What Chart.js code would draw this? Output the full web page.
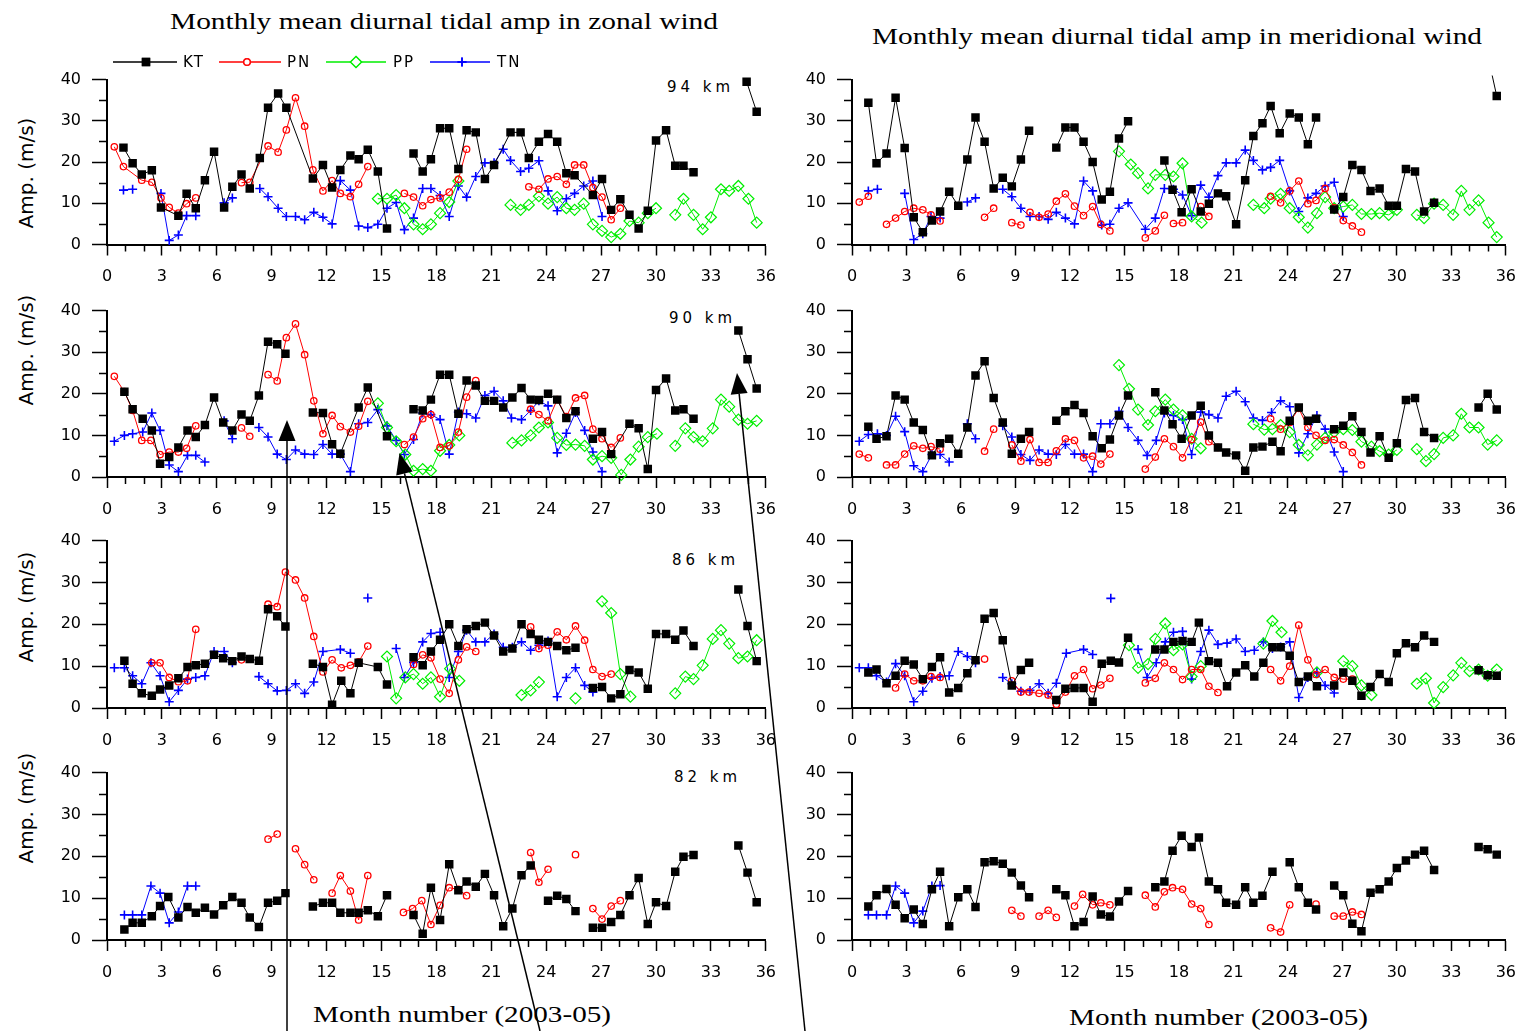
<!DOCTYPE html>
<html>
<head>
<meta charset="utf-8">
<script src="https://cdn.jsdelivr.net/npm/chart.js@4.4.1/dist/chart.umd.min.js"></script>
<style>
body{margin:0;width:1528px;height:1031px;background:#fff;position:relative;overflow:hidden;font-family:"DejaVu Sans",sans-serif}
canvas.c{position:absolute}
.ttl{position:absolute;font-family:"Liberation Serif","Times New Roman",serif;font-size:23px;line-height:30px;white-space:nowrap;color:#000;transform-origin:0 50%}
.km{position:absolute;font-size:15px;line-height:18px;letter-spacing:4px;color:#000;white-space:nowrap}
.yt{position:absolute;font-size:20px;line-height:22px;white-space:nowrap;transform:translate(-50%,-50%) rotate(-90deg)}
#ov{position:absolute;left:0;top:0;z-index:5;pointer-events:none}
</style>
</head>
<body>
<div class="ttl" data-w="548" style="left:170px;top:7px">Monthly mean diurnal tidal amp in zonal wind</div>
<div class="ttl" data-w="610" style="left:872px;top:22px">Monthly mean diurnal tidal amp in meridional wind</div>
<div class="ttl" data-w="298" style="left:313px;top:1000px">Month number (2003-05)</div>
<div class="ttl" data-w="299" style="left:1069px;top:1003px">Month number (2003-05)</div>
<div class="km" style="left:667px;top:78px">94 km</div>
<div class="km" style="left:669px;top:309px">90 km</div>
<div class="km" style="left:672px;top:551px">86 km</div>
<div class="km" style="left:674px;top:768px">82 km</div>
<div class="yt" style="left:26px;top:173px">Amp. (m/s)</div>
<div class="yt" style="left:26px;top:350px">Amp. (m/s)</div>
<div class="yt" style="left:26px;top:607px">Amp. (m/s)</div>
<div class="yt" style="left:26px;top:808px">Amp. (m/s)</div>
<canvas id="ov" width="1528" height="1031"></canvas>
<script>
// axis ranges
const MONTH_MIN = 0, MONTH_MAX = 36, MONTH_STEP = 3;
const AMP_MIN = 0, AMP_MAX = 40, AMP_STEP = 10;

// ---- 94 km ----
const KT_Z94 = [[0.9,23.5],[1.4,19.7],[1.9,17],[2.45,18],[2.95,9],[3.9,7],[4.35,12.3],[4.85,8.8],[5.35,15.6],[5.85,22.5],[6.4,9],[6.85,14],[7.35,17],[7.8,13.6],[8.35,21],[8.8,33.2],[9.35,36.6],[9.8,33.2],[11.25,16],[11.8,19.3],[12.3,13.8],[12.75,18.1],[13.3,21.6],[13.75,20.7],[14.25,23],[14.8,17.7],[15.3,3.9],null,[16.75,22.1],[17.25,17.7],[17.7,20.7],[18.2,28.2],[18.7,28.2],[19.2,18.3],[19.65,27.7],[20.15,27.2],[20.65,15.9],[21.15,19.3],[22.05,27.2],[22.6,27.2],[23.05,21],[23.6,24.9],[24.1,26.8],[24.6,24.9],[25.1,17.3],[25.55,16.8],[26.55,12],[27.05,15.9],[27.55,8.4],[28.05,11],[28.55,7.2],[29.05,3.9],[29.55,8.2],[30.0,25.2],[30.55,27.7],[31.05,19.1],[31.5,19.1],[32.05,17.5],null,[34.95,39.5],[35.5,32.2]];
const PN_Z94 = [[0.4,23.7],[0.9,18.9],[1.9,15.6],[2.45,15.1],[2.95,11.3],[3.4,9],[3.9,7.6],[4.35,9.9],[4.85,11.3],null,[7.35,15],[7.8,15.1],[8.8,23.9],[9.35,22.4],[9.8,27.8],[10.3,35.6],[10.8,28.7],[11.25,18.1],[11.8,13],[12.3,15.5],[12.75,12.4],[13.3,11.6],[13.75,14.6],[14.25,18.9],null,[16.25,12.4],[16.75,11.5],[17.25,9.4],[17.7,10.9],[18.2,11.3],[18.7,12.7],[19.2,15.8],[19.65,23.1],null,[23.05,14],[23.6,13.4],[24.1,15.9],[24.6,16.5],[25.1,14.6],[25.55,19.3],[26.05,19.3],[26.55,13.8],[27.05,11.5],[27.55,6],[28.05,8.8]];
const PP_Z94 = [[14.8,11.1],[15.3,11.1],[15.8,12],[16.25,8.8],[16.75,4.9],[17.25,3.7],[17.7,4.9],[18.2,7.6],[18.7,10.3],[19.2,15.4],null,[22.05,9.6],[22.6,8.4],[23.05,9.6],[23.6,11.7],[24.1,9.9],[24.6,11.5],[25.1,8.8],[25.55,8.4],[26.05,9.9],[26.55,4.9],[27.05,3.3],[27.55,1.8],[28.05,2.6],[28.55,5.7],[29.05,5.3],[29.55,7.6],[30.0,8.8],null,[31.05,7.2],[31.5,11.1],[32.05,7.2],[32.55,3.7],[33.0,6.6],[33.55,13.4],[34.0,13],[34.5,14.2],[35.05,11.1],[35.5,5.3]];
const TN_Z94 = [[0.9,13.2],[1.4,13.4],null,[2.95,12.4],[3.4,1],[3.9,2.3],[4.35,7],[4.85,7],null,[6.4,10.1],[6.85,11.3],null,[8.35,13.6],[8.8,11.6],[9.35,8.8],[9.8,6.8],[10.3,6.8],[10.8,6],[11.3,7.8],[11.8,6.6],[12.3,5],[12.75,15.5],[13.3,13.2],[13.75,4.5],[14.25,4.1],[14.8,4.9],[15.3,8.8],[15.8,10.2],[16.25,3.6],[16.75,6.4],[17.25,13.6],[17.7,13.6],[18.2,11.9],[18.7,6.8],[19.2,14.2],[19.65,11.5],[20.15,16.5],[20.65,19.8],[21.15,19.8],[21.65,23.1],[22.05,20.4],[22.6,17.7],[23.05,18.5],[23.6,20.3],[24.1,13],[24.6,8.2],[25.1,11.1],[25.55,12.4],[26.05,14.2],[26.55,15.4],[27.05,6.8]];

const KT_M94 = [[0.9,34.4],[1.35,19.7],[1.9,22.1],[2.4,35.6],[2.9,23.4],[3.4,6.6],[3.9,3],[4.4,5.8],[4.85,8],[5.35,12.8],[5.85,9.4],[6.35,20.6],[6.8,30.8],[7.3,24.9],[7.8,13.6],[8.3,16.2],[8.8,14.1],[9.3,20.6],[9.75,27.6],null,[11.25,23.5],[11.75,28.4],[12.25,28.4],[12.75,24.9],[13.25,20],[13.75,10.9],[14.2,12.8],[14.7,25.7],[15.2,29.9],null,[17.2,20.4],[17.65,13.3],[18.15,7.8],[18.7,13.4],[19.2,8],[19.65,9.9],[20.15,12.4],[20.6,11.7],[21.15,4.9],[21.65,15.6],[22.1,26.3],[22.6,29.4],[23.05,33.6],[23.55,27],[24.1,31.8],[24.6,30.8],[25.1,24.3],[25.55,30.8],null,[26.55,8.5],[27.05,11.5],[27.55,19.3],[28.05,18.1],[28.55,13],[29.05,13.6],[29.55,9.4],[30.0,9.4],[30.5,18.3],[31.0,17.7],[31.5,8],[32.05,10.1],null,[35.1,44],[35.5,36]];
const PN_M94 = [[0.4,10.3],[0.9,11.7],null,[1.9,4.9],[2.4,6.4],[2.9,8],[3.4,8.8],[3.9,8.4],[4.35,7.2],[4.85,5.7],null,[7.3,6.6],[7.8,8.8],null,[8.8,5.3],[9.3,4.7],null,[9.8,7.8],[10.3,6.6],[10.8,7.4],[11.25,10.5],[11.75,12.3],[12.25,9.3],[12.75,7],[13.25,9.2],[13.7,4.9],[14.2,3.3],null,[16.15,1.6],[16.7,3.3],[17.2,7.1],null,[17.7,5.1],[18.2,5.3],null,[19.2,9.2],[19.65,6.8],null,[23.05,11.7],[23.6,10.1],[24.1,13],[24.6,15.4],[25.1,9.9],[25.55,10.7],[26.05,13.6],[26.55,8.9],[27.05,5.8],[27.55,4.5],[28.05,3]];
const PP_M94 = [[14.7,22.6],[15.35,19.4],[15.75,17.3],[16.3,13.6],[16.7,16.9],[17.25,16.9],[17.7,16.5],[18.2,19.7],[18.7,6.8],[19.25,5.3],null,[22.1,9.6],[22.7,8.8],[23.05,11.1],[23.6,12.3],[24.1,8.8],[24.6,6.6],[25.1,4.1],[25.6,7.6],[26.05,11.5],[26.55,8.8],[27.05,9.2],[27.55,9.6],[28.05,7.4],[28.6,7.4],[29.05,7.6],[29.55,7.2],[30.0,8.4],null,[31.1,7.2],[31.5,6.4],[32.05,9.9],[32.55,9.6],[33.1,7.2],[33.55,13],[34.0,8.4],[34.5,10.7],[35.05,5.3],[35.5,1.8]];
const TN_M94 = [[0.9,13],[1.4,13.4],null,[2.9,12.4],[3.4,1.2],[3.9,2.6],[4.35,6.8],[4.85,6.4],null,[6.35,10.3],[6.8,11.3],null,[8.3,13.4],[8.8,11.6],[9.3,8.8],[9.8,6.8],[10.3,6.8],[10.8,6.1],[11.25,7.8],[11.75,6.4],[12.25,5],[12.75,15.4],[13.25,13],[13.75,4.7],[14.2,4.9],[14.7,8.8],[15.2,10.1],[16.15,3.7],[16.7,6.4],[17.2,13.6],[17.7,13.4],[18.2,12],[18.7,7],[19.2,14.4],[19.65,11.5],[20.15,16.7],[20.6,19.8],[21.15,19.8],[21.65,22.9],[22.1,20.4],[22.6,18.1],[23.05,18.7],[23.55,20.4],[24.1,13],[24.6,8],[25.1,11.3],[25.55,12.4],[26.05,14.2],[26.55,15.1],[27.05,6.8]];

// ---- 90 km ----
const KT_Z90 = [[0.95,20.5],[1.4,16.3],[1.95,14],[2.45,11.2],[2.9,3.2],[3.4,4.8],[3.9,7.1],[4.4,11.2],[4.85,9.6],[5.35,12.5],[5.85,19.1],[6.35,13.1],[6.85,11.2],[7.35,15],[7.8,13.5],[8.3,19.6],[8.8,32.5],[9.3,31.9],[9.75,29.6],null,[11.25,15.5],[11.8,15.4],[12.3,7.9],[12.75,5.6],[13.75,16.7],[14.25,21.5],[15.3,9.8],null,[16.75,16.3],[17.25,16],[17.7,18.6],[18.2,24.6],[18.7,24.6],[19.2,15.2],[19.65,23.2],[20.15,22],[20.65,18.3],[21.15,18.3],[21.65,16.7],[22.15,19.1],[22.65,21.4],[23.15,18.6],[23.6,18.5],[24.1,20],[24.6,18.6],[25.1,14.2],[25.6,15.8],null,[26.55,9.2],[27.05,10.8],[27.55,5.5],[28.55,12.8],[29.05,11.7],[29.55,1.9],[30.0,20.9],[30.55,23.7],[31.05,16],[31.5,16.3],[32.05,14],null,[34.5,35.2],[35.0,28.3],[35.5,21.3]];
const PN_Z90 = [[0.4,24.2],[0.95,20.5],[1.4,16],[1.9,8.8],[2.4,8.8],[2.9,5.4],[3.4,6],[3.9,6],[4.35,6.9],[4.85,12.3],null,[7.35,11.8],[7.8,9.8],null,[8.8,24.6],[9.3,23.1],[9.8,33.5],[10.3,36.8],[10.8,29.4],[11.3,18.3],[11.8,10.4],[12.3,14.8],[12.75,12.1],[13.3,10.8],[13.75,12.2],[14.25,18.2],null,[16.25,7.8],[16.75,9.6],[17.25,14],[17.7,15],[18.2,7.1],[18.7,7.5],[19.2,10.8],[19.65,19.2],[20.15,23.2],null,[23.15,16.3],[23.6,15],[24.1,13.5],[24.6,18.6],[25.1,14.5],[25.6,19],[26.1,19.6],[26.55,11.5],[27.05,9.2],[27.55,7.1],[28.05,9.4]];
const PP_Z90 = [[14.8,17.7],[15.3,11.9],[15.8,8.6],[16.3,5.4],[16.75,1.5],[17.25,1.9],[17.7,1.5],[18.2,6.3],[18.7,7.7],[19.25,10],null,[22.15,8.2],[22.65,8.8],[23.15,10],[23.6,11.9],[24.1,13.1],[24.6,9.4],[25.1,7.7],[25.6,7.8],[26.1,7.5],[26.55,4.2],[27.05,5],[27.55,4.6],[28.1,0.5],[28.6,4.2],[29.05,7.3],[29.55,9.6],[30.05,10.4],null,[31.05,7.5],[31.6,11.7],[32.05,9.6],[32.55,8.6],[33.1,11.7],[33.55,18.6],[34.0,16.9],[34.5,13.8],[35.0,12.8],[35.5,13.5]];
const TN_Z90 = [[0.4,8.6],[0.95,10],[1.4,10.4],[1.95,10.8],[2.45,15.4],[2.9,11.2],[3.4,2.9],[3.9,1.3],[4.4,5.2],[4.85,5.2],[5.35,3.6],null,[6.4,13.5],[6.85,9.2],null,[8.3,11.9],[8.8,9.6],[9.3,5.5],[9.8,4.2],[10.3,6.5],[10.8,5.5],[11.3,5.4],[11.8,7.8],[12.3,5.5],[12.75,5.5],[13.3,1.3],[13.75,12.8],[14.25,13.1],[14.8,16.2],[15.3,12.3],[15.8,8.8],[16.25,5.4],[16.75,9],[17.25,15.4],[17.7,15],[18.2,13.8],[18.7,5.5],[19.2,15.6],[19.65,15.2],[20.15,14.2],[20.65,19.6],[21.15,20.6],[21.65,18.3],[22.1,14.2],[22.65,13.8],[23.15,16],[23.6,18.3],[24.1,17.1],[24.6,5.8],[25.1,10.5],[25.6,15.5],[26.1,11.2],[26.55,6],[27.05,1.3]];

const KT_M90 = [[0.9,12.1],[1.35,9.2],[1.9,9.8],[2.4,19.6],[2.9,18.6],[3.4,13.1],[3.9,11.3],[4.4,5.2],[4.85,8.1],[5.35,9.2],[5.85,5.6],[6.35,11.9],[6.8,24.4],[7.3,27.8],[7.8,19],[8.3,13.1],[8.8,5.6],[9.3,9.2],[9.75,10.8],null,[11.25,13.5],[11.75,15.8],[12.25,17.3],[12.75,15.4],[13.25,9.8],[13.75,6.9],[14.2,9],[14.7,14.8],[15.2,19.6],null,[16.7,20.4],[17.2,16],[17.65,12.7],[18.15,9.2],[18.7,14.8],[19.2,17.1],[19.65,10],[20.15,7.1],[20.6,5.9],[21.15,5.2],[21.65,1.5],[22.1,7.1],[22.6,7.3],[23.15,8.5],[23.6,6.2],[24.1,13.5],[24.6,16.7],[25.1,13.5],[25.55,14],null,[26.55,11.5],[27.05,12.3],[27.55,14.6],[28.05,10.8],[28.55,5.9],[29.05,9.8],[29.55,4.6],[30.0,8.1],[30.5,18.5],[31.0,19],[31.5,10.8],[32.05,9.4],null,[34.5,16.7],[35.0,20],[35.5,16.2]];
const PN_M90 = [[0.4,5.5],[0.9,4.6],null,[1.9,2.9],[2.4,2.9],[2.9,5.5],[3.4,7.5],[3.9,6.9],[4.35,7.3],[4.85,6.7],null,[7.3,6.2],[7.8,11.5],null,[8.8,7.7],[9.3,3.8],[9.8,9],[10.3,3.5],[10.8,3.5],[11.25,6.3],[11.75,9.2],[12.25,8.8],[12.75,4.6],[13.25,5],[13.7,3.1],[14.2,5.5],null,[16.15,1.9],[16.7,4.8],[17.2,9.2],[17.7,7.3],[18.2,4.6],[18.7,9],[19.2,13.2],[19.65,8.5],[20.15,7.1],null,[23.05,14],[23.6,11.5],[24.1,13.1],[24.6,16.5],[25.1,11.9],[25.55,10],[26.05,8.8],[26.55,9],[27.05,7.7],[27.55,5.9],[28.05,2.9]];
const PP_M90 = [[14.7,26.9],[15.25,21.2],[15.75,16.2],[16.3,12.5],[16.7,15.8],[17.25,18.6],[17.7,16.2],[18.2,14.8],[18.7,9.2],[19.2,6.9],null,[22.1,12.7],[22.7,11.4],[23.15,11.5],[23.6,12.5],[24.1,10.8],[24.6,7.7],[25.1,5.2],[25.6,7.8],[26.05,9.4],[26.55,10.8],[27.05,11.5],[27.55,11.3],[28.05,8.5],[28.6,7.3],[29.05,6.2],[29.55,5.4],[30.0,6.5],null,[31.1,6.7],[31.6,3.8],[32.05,5.5],[32.55,9.4],[33.1,10],[33.55,15.2],[34.0,11.9],[34.5,11.9],[35.0,7.8],[35.5,8.8]];
const TN_M90 = [[0.4,8.6],[0.9,10.2],[1.4,10.4],[1.9,10],[2.4,14.6],[2.9,10.9],[3.4,2.7],[3.9,1.3],[4.4,5.4],[4.85,5.4],[5.35,3.6],null,[6.35,12.8],[6.8,9.2],null,[8.3,12.3],[8.8,9.6],[9.3,5.4],[9.8,4],[10.3,6.5],[10.8,5.5],[11.25,5.4],[11.75,7.8],[12.25,5.5],[12.75,5.5],[13.25,1.3],[13.7,12.8],[14.2,12.8],[14.7,15.8],[15.2,11.9],[15.75,8.8],[16.25,5.2],[16.75,8.8],[17.2,15.4],[17.7,14.8],[18.2,13.8],[18.7,5.4],[19.2,15.6],[19.65,15],[20.15,14.2],[20.6,19.4],[21.15,20.6],[21.65,18.1],[22.1,14.2],[22.6,13.6],[23.1,15.5],[23.6,18.3],[24.1,16.9],[24.6,5.8],[25.1,10.4],[25.6,14.8],[26.05,11.5],[26.55,6],[27.05,1.3]];

// ---- 86 km ----
const KT_Z86 = [[0.95,11.3],[1.4,5.8],[1.9,3.5],[2.45,2.9],[2.9,4.4],[3.4,5.4],[3.9,7.1],[4.4,9.8],[4.85,10.2],[5.35,10.6],[5.85,12.7],[6.35,11.9],[6.85,11.2],[7.35,12.3],[7.8,11.7],[8.3,11.3],[8.8,23.6],[9.3,21.9],[9.75,19.5],null,[11.25,10.6],[11.8,9.8],[12.3,0.8],[12.8,6.5],[13.3,3.5],[13.75,10.8],[14.8,9.8],[15.3,5.6],null,[16.75,12.1],[17.25,10.2],[17.7,13.5],[18.2,16.3],[18.7,20],[19.2,14.8],[19.65,18.8],[20.15,19.6],[20.65,20.4],[21.15,17.3],[21.65,13.5],[22.15,14.2],[22.65,20],[23.15,17.7],[23.6,16.3],[24.1,15.8],[24.6,14.8],[25.1,13.8],[25.6,14.4],null,[26.55,4.8],[27.05,5],[27.55,2.3],[28.05,3.3],[28.55,9.1],[29.05,8.5],[29.55,4.6],[30.0,17.7],[30.55,17.7],[31.05,16.3],[31.5,18.5],[32.05,14.8],null,[34.5,28.3],[35.0,19.6],[35.5,11.2]];
const PN_Z86 = [[2.45,10.8],[2.9,10.8],[3.4,7.3],[3.9,6.3],[4.4,6.5],[4.85,18.8],null,[7.35,11.5],null,[8.8,24.8],[9.3,24.2],[9.75,32.5],[10.3,30.6],[10.8,26.3],[11.3,17.1],[11.8,8.6],[12.3,11.5],[12.8,9.6],[13.3,10.2],[13.75,11],[14.25,14.8],null,[16.75,10.4],[17.25,12.7],[17.7,12],[18.2,6.9],[18.7,3.5],[19.2,11.5],[19.65,14.6],[20.15,13.5],null,[23.15,19.4],[23.6,14.2],[24.1,15],[24.6,18.2],[25.1,16.3],[25.6,19.6],[26.1,16.2],[26.55,9.2],[27.05,7.5],[27.55,8.1]];
const PP_Z86 = [[15.3,12.3],[15.8,2.3],[16.3,7.3],[16.75,8.1],[17.25,5.8],[17.7,7.3],[18.2,2.7],[18.75,9.4],[19.25,6.5],null,[22.65,3.1],[23.15,4.2],[23.6,6.2],null,[25.6,2.3],null,[27.05,25.5],[27.55,22.7],[28.05,8.1],[28.6,2.7],null,[31.05,3.5],[31.6,7.5],[32.05,6.9],[32.55,10.2],[33.1,16.5],[33.55,18.6],[34.0,15.4],[34.5,11.9],[35.0,12.3],[35.5,16.2]];
const TN_Z86 = [[0.4,9.6],[0.95,9.6],[1.4,7.7],[1.9,5.8],[2.4,10.8],[2.9,7.7],[3.4,1.5],[3.9,4.2],[4.4,6.9],[4.85,7.3],[5.35,7.7],[5.85,13.5],[6.4,13.5],[6.85,10.8],null,[8.3,7.5],[8.8,5.8],[9.3,4.1],[9.8,4.2],[10.3,5.8],[10.8,3.5],[11.3,6.2],[11.8,13.5],[12.75,14],[13.3,13.1],null,[14.25,26.3],null,[15.8,14.2],[16.25,7.3],[16.75,10.9],[17.25,15.8],[17.7,17.8],[18.2,18.1],[18.7,7.3],[19.2,13.5],[19.65,18.6],[20.15,15.8],[20.65,15.8],[21.15,17.7],[21.65,14.5],[22.15,14.5],[22.65,15.8],[23.15,13.8],[23.6,15],[24.1,16],[24.6,2.7],[25.1,7.3],[25.6,9.6],[26.1,5.4],[26.55,3.8]];

const KT_M86 = [[0.9,8.5],[1.35,9.2],[1.9,5.9],[2.4,7.7],[2.9,11.3],[3.4,10.4],[3.9,6.9],[4.4,9.8],[4.85,12.1],[5.35,3.7],[5.85,4.8],[6.35,8.3],[6.8,11.4],[7.3,21.3],[7.8,22.7],[8.3,16.2],[8.8,5.4],[9.3,9.1],[9.75,10.8],null,[11.25,1.9],[11.75,4.6],[12.25,4.8],[12.75,4.8],[13.25,1.5],[13.75,10.6],[14.25,11.3],[14.7,10.9],[15.2,16.8],null,[16.7,14],[17.2,14],[17.7,15.8],[18.2,16],[18.7,15.8],[19.1,20.4],[19.65,11.2],[20.15,10.8],[20.65,5.2],[21.15,8.5],[21.65,10.2],[22.15,7.5],[22.65,10.8],[23.15,14.5],[23.6,14.5],[24.1,12.5],[24.6,6.2],[25.1,7.5],[25.6,5.2],null,[26.55,5.4],[27.05,8.5],[27.55,6.5],[28.05,2.9],[28.55,5],[29.05,8.1],[29.55,6.2],[30.0,13.1],[30.5,15.5],[31.0,14.5],[31.5,17.3],[32.05,15.8],null,[34.5,9],[35.0,7.8],[35.5,7.7]];
const PN_M86 = [[2.4,4.8],[2.9,8.1],[3.4,6.5],[3.9,6.5],[4.35,7.5],[4.85,7.3],null,[7.3,11.7],null,[8.8,6.5],[9.3,3.8],[9.75,3.8],[10.3,3.5],[10.8,3.1],[11.25,0.9],[11.75,3.8],[12.25,7.7],[12.75,9.2],[13.25,4.6],[13.7,5.5],[14.2,7.1],null,[16.15,6],[16.7,7.1],[17.2,10.8],[17.7,9.2],[18.2,6.8],[18.7,9.2],[19.2,9.2],[19.65,5.2],[20.15,3.7],null,[23.05,9.2],[23.6,6.5],[24.1,10],[24.6,19.8],[25.1,11.5],[25.55,8],[26.05,9.2],[26.55,7.3],[27.05,6.9],[27.55,6.9]];
const PP_M86 = [[15.25,15],[15.75,9.6],[16.3,10.5],[16.7,16.5],[17.25,20.2],[17.7,13.8],[18.2,15.2],[18.7,7.5],[19.2,10],null,[22.65,15.4],[23.15,20.8],[23.65,18.1],null,[25.6,8.5],null,[27.05,11.2],[27.55,10],[28.05,5.4],[28.6,3.1],null,[31.1,5.8],[31.6,7.1],[32.05,1.2],[32.55,5],[33.1,7.8],[33.55,10.8],[34.0,8.8],[34.5,9.2],[35.0,7.7],[35.5,9.2]];
const TN_M86 = [[0.4,9.6],[0.9,9.6],[1.35,7.7],[1.9,6.2],[2.4,10.6],[2.9,7.7],[3.4,1.5],[3.9,4],[4.4,7.1],[4.85,7.5],[5.35,7.7],[5.85,13.5],[6.35,12.3],[6.8,10.8],null,[8.3,7.3],[8.8,5.8],[9.3,4],[9.8,4.2],[10.3,5.8],[10.8,3.5],[11.25,5.9],[11.8,13.1],[12.75,14],[13.25,12.8],null,[14.25,26.2],null,[15.75,14],[16.25,7.3],[16.75,10.8],[17.25,15.8],[17.7,18.1],[18.2,18.3],[18.7,6.9],[19.2,13.5],[19.65,18.6],[20.15,15.2],[20.65,15.5],[21.15,16.5],[21.65,13.5],[22.15,13.8],[22.65,15.8],[23.15,14.2],[23.6,14.6],[24.1,15.8],[24.6,2.5],[25.1,7.3],[25.6,8.5],[26.05,5.4],[26.55,3.6]];

// ---- 82 km ----
const KT_Z82 = [[0.95,2.5],[1.4,4.1],[1.9,4.1],[2.45,5.7],[2.9,8.1],[3.35,10.3],[3.9,5.4],[4.4,7.9],[4.85,6.5],[5.35,7.7],[5.85,6.1],[6.35,8.3],[6.85,10.3],[7.35,8.9],[7.8,5.4],[8.3,3.1],[8.8,8.9],[9.3,9.4],[9.75,11.2],null,[11.25,8],[11.8,8.9],[12.3,8.9],[12.75,6.5],[13.3,6.5],[13.75,6.5],[14.25,7.1],[14.8,5.7],[15.3,10.7],null,[16.75,6],[17.25,1.5],[17.7,12.5],[18.2,4.8],[18.7,18.1],[19.2,11.9],[19.65,14],[20.15,12.7],[20.65,15.8],[21.15,10.7],[21.65,3.3],[22.15,7.5],[22.65,15.5],[23.15,17.8],null,[24.1,9.4],[24.6,10.6],[25.1,9.8],[25.6,6.9],null,[26.55,2.9],[27.05,2.9],[27.55,4.3],[28.05,6],[28.55,10.7],[29.05,14.8],[29.55,3.8],[30.0,9],[30.55,8.1],[31.05,16.3],[31.5,19.9],[32.05,20.3],null,[34.5,22.6],[35.0,16.1],[35.5,9]];
const PN_Z82 = [[8.8,24.1],[9.3,25.3],null,[10.3,21.8],[10.8,18],[11.3,14.4],null,[12.3,11.2],[12.75,15.4],[13.3,11.7],[13.75,4.8],[14.25,15.4],null,[16.2,6.6],[16.7,7.5],[17.2,9.4],[17.7,3.7],[18.2,8.3],[18.7,12.5],[19.2,12.1],[19.65,10.6],null,[23.15,20.9],[23.6,13.8],[24.1,16.9],null,[25.6,20.4],null,[26.55,7.5],[27.05,5],[27.55,8.1],[28.05,9.4]];
const PP_Z82 = [];
const TN_Z82 = [[0.95,6],[1.4,6],[1.9,6],[2.4,12.9],[2.9,11.2],[3.4,4.1],[3.9,6.7],[4.4,12.9],[4.85,12.9]];

const KT_M82 = [[0.9,8],[1.35,10.7],[1.9,12.2],[2.4,8.4],[2.9,5.2],[3.4,7.3],[3.9,3.8],[4.4,12.1],[4.85,16.3],[5.35,3.3],[5.85,10.2],[6.35,12.1],[6.8,7.9],[7.3,18.6],[7.8,18.8],[8.3,18.2],[8.8,16.1],[9.3,13],[9.75,10.2],null,[11.25,12.1],[11.75,10.7],[12.25,3.3],[12.75,4.3],[13.25,10.4],[13.7,6.1],[14.2,5.6],[14.7,9.2],[15.2,11.7],null,[16.7,12.6],[17.2,14],[17.65,21.3],[18.15,24.9],[18.7,22.2],[19.1,24.5],[19.65,14],[20.15,12.1],[20.6,8.9],[21.15,8.4],[21.65,12.6],[22.1,8.9],[22.6,10.6],[23.15,16.3],null,[24.1,18.6],[24.6,12.6],[25.1,8.9],[25.55,7.3],null,[26.55,13],[27.05,10.7],[27.55,3.9],[28.05,2.1],[28.55,11.3],[29.05,12.1],[29.55,14],[30.0,17.2],[30.5,19],[31.0,20.4],[31.5,21.3],[32.05,16.7],null,[34.5,22.2],[35.0,21.7],[35.5,20.4]];
const PN_M82 = [[8.8,7.1],[9.3,5.7],null,[10.3,5.7],[10.8,7.1],[11.25,5.4],null,[12.25,8.1],[12.7,10.9],[13.25,8.4],[13.7,8.9],[14.2,8.4],null,[16.15,10.7],[16.7,7.9],[17.2,11.5],[17.65,12.5],[18.2,12.1],[18.7,8.6],[19.2,7.5],[19.65,3.7],null,[23.05,2.9],[23.6,1.9],[24.1,8.4],null,[25.55,8.6],null,[26.55,5.7],[27.05,5.7],[27.55,6.7],[28.05,6.1]];
const PP_M82 = [];
const TN_M82 = [[0.9,6],[1.35,6],[1.9,6],[2.4,12.9],[2.9,11.2],[3.4,4.1],[3.9,6.9],[4.4,12.9],[4.85,13]];

const SERIES = ['KT', 'PN', 'PP', 'TN'];

// panel grid (page pixels)
const COLS = [{x0: 0, axis: 107, end: 768, w: 788}, {x0: 786, axis: 852, end: 1513, w: 742}];
const ROWS = [{top: 73, bot: 244.5}, {top: 304, bot: 477}, {top: 533.5, bot: 707.5}, {top: 766, bot: 940}];

const PANELS = [
  {col: 0, row: 0, sets: [KT_Z94, PN_Z94, PP_Z94, TN_Z94]},
  {col: 1, row: 0, sets: [KT_M94, PN_M94, PP_M94, TN_M94]},
  {col: 0, row: 1, sets: [KT_Z90, PN_Z90, PP_Z90, TN_Z90]},
  {col: 1, row: 1, sets: [KT_M90, PN_M90, PP_M90, TN_M90]},
  {col: 0, row: 2, sets: [KT_Z86, PN_Z86, PP_Z86, TN_Z86]},
  {col: 1, row: 2, sets: [KT_M86, PN_M86, PP_M86, TN_M86]},
  {col: 0, row: 3, sets: [KT_Z82, PN_Z82, PP_Z82, TN_Z82]},
  {col: 1, row: 3, sets: [KT_M82, PN_M82, PP_M82, TN_M82]}
];

const LOOK = {
  KT: {color: '#000000', style: 'rect', r: 6, bw: 0, fill: '#000000'},
  PN: {color: '#ff0000', style: 'circle', r: 3.2, bw: 1.3, fill: 'rgba(255,255,255,0)'},
  PP: {color: '#00ee00', style: 'rectRot', r: 5.5, bw: 1.2, fill: 'rgba(255,255,255,0)'},
  TN: {color: '#0000ff', style: 'cross', r: 4.5, bw: 1.6, fill: '#0000ff'}
};

function toPoints(pairs) {
  const out = [];
  let lastX = 0;
  pairs.forEach(p => {
    if (p === null) { out.push({x: lastX + 0.01, y: null}); }
    else { out.push({x: p[0], y: p[1]}); lastX = p[0]; }
  });
  return out;
}

// short minor ticks between the labelled ones
const minorTicks = {
  id: 'minorTicks',
  afterDraw(chart) {
    const ctx = chart.ctx, xs = chart.scales.x, ys = chart.scales.y;
    ctx.save();
    ctx.strokeStyle = '#000';
    ctx.lineWidth = 1.5;
    ctx.beginPath();
    for (let m = MONTH_MIN; m <= MONTH_MAX; m++) {
      if (m % MONTH_STEP === 0) continue;
      const px = Math.round(xs.getPixelForValue(m)) + 0.5;
      ctx.moveTo(px, ys.bottom);
      ctx.lineTo(px, ys.bottom + 7);
    }
    for (let v = AMP_MIN + AMP_STEP / 2; v < AMP_MAX; v += AMP_STEP) {
      const py = Math.round(ys.getPixelForValue(v)) + 0.5;
      ctx.moveTo(xs.left, py);
      ctx.lineTo(xs.left - 8, py);
    }
    ctx.stroke();
    ctx.restore();
  }
};

PANELS.forEach(p => {
  const c = COLS[p.col], r = ROWS[p.row];
  const top = r.top - 14;
  const H = Math.round(r.bot + 50 - top);
  const cv = document.createElement('canvas');
  cv.className = 'c';
  cv.width = c.w; cv.height = H;
  cv.style.left = c.x0 + 'px';
  cv.style.top = top + 'px';
  document.body.appendChild(cv);

  const xH = H - 14 - (r.bot - r.top);
  const tickFont = {family: 'DejaVu Sans', size: 16};

  new Chart(cv, {
    type: 'scatter',
    data: {
      datasets: SERIES.map((s, i) => ({
        label: s,
        data: toPoints(p.sets[i]),
        showLine: true,
        spanGaps: false,
        borderColor: LOOK[s].color,
        borderWidth: 1,
        pointStyle: LOOK[s].style,
        pointRadius: LOOK[s].r,
        pointBorderWidth: LOOK[s].bw,
        pointBorderColor: LOOK[s].color,
        pointBackgroundColor: LOOK[s].fill,
        clip: {left: 8, right: 8, top: 4, bottom: 8}
      }))
    },
    options: {
      responsive: false,
      animation: false,
      events: [],
      layout: {padding: {left: 0, top: 14, right: c.w - (c.end - c.x0), bottom: 0}},
      plugins: {legend: {display: false}, tooltip: {enabled: false}},
      scales: {
        x: {
          type: 'linear', min: MONTH_MIN, max: MONTH_MAX,
          ticks: {stepSize: MONTH_STEP, autoSkip: false, maxRotation: 0, color: '#000', font: tickFont, padding: 12},
          grid: {drawOnChartArea: false, drawTicks: true, tickLength: 11, tickColor: '#000', tickWidth: 1.5},
          border: {display: true, color: '#000', width: 2},
          afterFit(s) { s.height = xH; }
        },
        y: {
          type: 'linear', min: AMP_MIN, max: AMP_MAX,
          ticks: {stepSize: AMP_STEP, color: '#000', font: tickFont, padding: 11},
          grid: {drawOnChartArea: false, drawTicks: true, tickLength: 15, tickColor: '#000', tickWidth: 1.5},
          border: {display: true, color: '#000', width: 2},
          afterFit(s) { s.width = c.axis - c.x0; }
        }
      }
    },
    plugins: [minorTicks]
  });
});

// stretch the serif titles to the widths seen in the figure
document.querySelectorAll('.ttl').forEach(el => {
  const w = el.getBoundingClientRect().width;
  el.style.transform = 'scaleX(' + (parseFloat(el.dataset.w) / w) + ')';
});

// legend + annotation arrows
const ov = document.getElementById('ov').getContext('2d');
const LEGEND = [
  {s: 'KT', x1: 113, x2: 177, mx: 146, tx: 183},
  {s: 'PN', x1: 219, x2: 281, mx: 247, tx: 287},
  {s: 'PP', x1: 326, x2: 386, mx: 356, tx: 393},
  {s: 'TN', x1: 430, x2: 490, mx: 462, tx: 497}
];
const LY = 62;
ov.font = '15px "DejaVu Sans"';
ov.textBaseline = 'middle';
ov.letterSpacing = '2px';
LEGEND.forEach(l => {
  const k = LOOK[l.s];
  ov.strokeStyle = k.color;
  ov.lineWidth = 1.5;
  ov.beginPath(); ov.moveTo(l.x1, LY); ov.lineTo(l.x2, LY); ov.stroke();
  Chart.helpers.drawPoint(ov, {pointStyle: k.style, radius: k.r, borderWidth: k.bw || 0, rotation: 0},
    l.mx, LY);
  ov.fillStyle = l.s === 'KT' ? '#000' : '#fff';
  ov.strokeStyle = k.color;
  ov.lineWidth = k.bw || 1;
  ov.beginPath();
  if (l.s === 'KT') { ov.rect(l.mx - 4.2, LY - 4.2, 8.4, 8.4); ov.fill(); }
  else if (l.s === 'PN') { ov.arc(l.mx, LY, 3.2, 0, Math.PI * 2); ov.fill(); ov.stroke(); }
  else if (l.s === 'PP') { ov.moveTo(l.mx, LY - 5.5); ov.lineTo(l.mx + 5.5, LY); ov.lineTo(l.mx, LY + 5.5); ov.lineTo(l.mx - 5.5, LY); ov.closePath(); ov.fill(); ov.stroke(); }
  else { ov.moveTo(l.mx - 4.5, LY); ov.lineTo(l.mx + 4.5, LY); ov.moveTo(l.mx, LY - 4.5); ov.lineTo(l.mx, LY + 4.5); ov.stroke(); }
  ov.fillStyle = '#000';
  ov.fillText(l.s, l.tx, LY + 1);
});

const ARROWS = [
  {x0: 287, y0: 1031, x1: 287, y1: 420},
  {x0: 540, y0: 1031, x1: 399.5, y1: 453},
  {x0: 805, y0: 1031, x1: 737, y1: 373}
];
ARROWS.forEach(a => {
  const ang = Math.atan2(a.y1 - a.y0, a.x1 - a.x0);
  const hl = 21, hw = 8.5;
  const bx = a.x1 - hl * Math.cos(ang), by = a.y1 - hl * Math.sin(ang);
  ov.strokeStyle = '#000'; ov.fillStyle = '#000'; ov.lineWidth = 1.5;
  ov.beginPath(); ov.moveTo(a.x0, a.y0); ov.lineTo(bx, by); ov.stroke();
  ov.beginPath();
  ov.moveTo(a.x1, a.y1);
  ov.lineTo(bx + hw * Math.sin(ang), by - hw * Math.cos(ang));
  ov.lineTo(bx - hw * Math.sin(ang), by + hw * Math.cos(ang));
  ov.closePath(); ov.fill();
});
</script>
</body>
</html>
